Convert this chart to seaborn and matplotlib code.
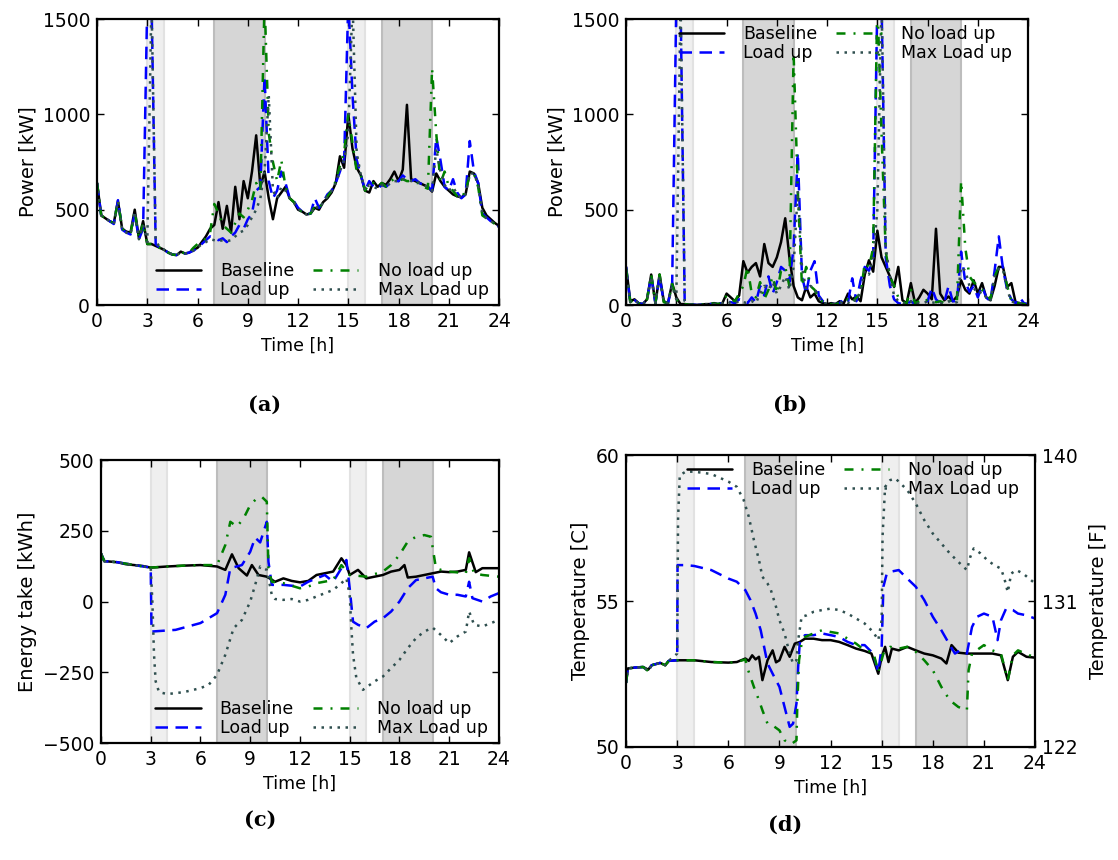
import numpy as np
import pandas as pd
import matplotlib
matplotlib.use("Agg")
import matplotlib.pyplot as plt
import seaborn as sns

# ---------------- data ----------------
hours = np.arange(0, 24.01, 0.25)
series_names = ["Baseline", "Load up", "No load up", "Max Load up"]

# Panel (a): total power [kW], 15-min grid
a_base = [640, 470, 455, 440, 430, 545, 400, 385, 380, 500, 350, 440, 320, 320, 310, 300, 290, 275, 265, 262,
          280, 270, 275, 290, 300, 330, 360, 400, 420, 540, 400, 520, 380, 620, 450, 650, 560, 700, 890, 620,
          700, 560, 450, 560, 590, 620, 560, 540, 500, 490, 475, 480, 510, 500, 540, 560, 590, 640, 780, 720,
          1000, 820, 720, 680, 600, 590, 650, 620, 640, 630, 660, 700, 650, 710, 1050, 660, 650, 640, 630, 620,
          595, 690, 650, 620, 600, 580, 570, 565, 580, 700, 690, 640, 510, 470, 450, 430, 415]
a_load = [640, 470, 455, 440, 425, 550, 395, 380, 370, 480, 345, 400, 1600, 1600, 320, 300, 290, 275, 265, 262,
          275, 270, 275, 285, 300, 320, 340, 360, 350, 340, 350, 330, 360, 380, 420, 400, 450, 480, 600, 620,
          1200, 650, 560, 600, 700, 640, 560, 545, 510, 490, 475, 480, 560, 510, 540, 580, 600, 640, 700, 760,
          1600, 1100, 760, 680, 600, 650, 620, 610, 630, 620, 640, 650, 650, 680, 660, 650, 660, 640, 630, 620,
          600, 880, 760, 620, 600, 660, 590, 560, 580, 860, 700, 640, 480, 460, 440, 425, 410]
a_noload = [640, 470, 455, 440, 430, 545, 400, 385, 375, 490, 350, 430, 320, 320, 310, 300, 290, 275, 265, 262,
            280, 270, 275, 300, 320, 330, 350, 380, 530, 480, 420, 400, 380, 430, 480, 460, 500, 550, 640, 600,
            1600, 900, 750, 650, 760, 620, 560, 540, 500, 490, 475, 480, 520, 510, 540, 570, 600, 650, 730, 800,
            1000, 850, 700, 680, 600, 640, 640, 620, 640, 620, 650, 660, 650, 660, 650, 650, 640, 640, 620, 610,
            1240, 900, 640, 700, 620, 600, 570, 560, 600, 680, 690, 620, 470, 455, 440, 425, 410]
a_max = [640, 470, 455, 440, 425, 545, 395, 380, 370, 490, 345, 420, 330, 1600, 340, 300, 290, 275, 265, 262,
         275, 270, 275, 285, 300, 320, 330, 345, 340, 335, 340, 335, 340, 360, 380, 390, 420, 460, 500, 560,
         700, 1100, 600, 560, 620, 600, 560, 540, 505, 490, 475, 480, 520, 505, 540, 570, 600, 640, 700, 760,
         900, 1600, 800, 680, 600, 630, 620, 610, 630, 620, 640, 650, 650, 660, 660, 650, 650, 640, 630, 620,
         600, 820, 700, 630, 600, 620, 580, 560, 580, 690, 690, 630, 480, 455, 440, 425, 410]

# Panel (b): power [kW], 15-min grid
b_base = [200, 20, 30, 10, 5, 30, 160, 10, 160, 20, 10, 115, 40, 5, 5, 2, 2, 0, 2, 5,
          5, 10, 5, 10, 60, 40, 20, 50, 230, 170, 200, 220, 150, 320, 220, 200, 250, 330, 455, 250,
          100, 40, 25, 95, 40, 60, 20, 10, 5, 10, 5, 20, 10, 60, 30, 45, 20, 160, 235, 175,
          390, 250, 200, 150, 95, 200, 25, 10, 115, 10, 40, 80, 60, 30, 400, 60, 25, 45, 20, 45,
          130, 80, 60, 130, 60, 115, 40, 25, 100, 200, 200, 95, 115, 15, 10, 5, 5]
b_load = [200, 15, 25, 10, 5, 30, 150, 10, 150, 15, 10, 100, 1600, 1600, 10, 2, 2, 0, 2, 3,
          5, 5, 5, 10, 20, 15, 10, 30, 20, 10, 40, 15, 100, 50, 150, 60, 120, 200, 180, 120,
          300, 800, 150, 60, 180, 230, 50, 20, 10, 5, 5, 10, 30, 15, 140, 20, 130, 200, 180, 250,
          1600, 1600, 250, 100, 30, 10, 5, 5, 20, 5, 10, 20, 20, 90, 30, 10, 15, 100, 20, 20,
          280, 120, 70, 100, 40, 100, 40, 20, 180, 360, 190, 80, 30, 10, 40, 10, 5]
b_noload = [190, 15, 30, 10, 5, 30, 160, 10, 160, 15, 10, 110, 30, 5, 5, 2, 2, 0, 2, 5,
            5, 8, 5, 15, 50, 30, 20, 60, 100, 200, 60, 40, 120, 30, 80, 150, 60, 180, 200, 100,
            1320, 600, 100, 200, 100, 80, 40, 15, 5, 5, 5, 10, 20, 30, 10, 40, 60, 220, 200, 300,
            1600, 900, 280, 150, 100, 40, 15, 10, 80, 10, 20, 10, 30, 20, 15, 20, 10, 30, 10, 20,
            650, 300, 150, 120, 100, 80, 60, 30, 150, 200, 190, 100, 20, 10, 10, 5, 5]
b_max = [190, 15, 25, 10, 5, 25, 150, 10, 150, 15, 10, 100, 30, 1600, 20, 2, 2, 0, 2, 3,
         5, 5, 5, 10, 20, 10, 10, 20, 15, 10, 20, 10, 60, 100, 80, 120, 60, 100, 150, 80,
         200, 600, 200, 80, 100, 90, 40, 15, 5, 5, 5, 10, 20, 10, 30, 20, 80, 180, 160, 250,
         500, 1600, 300, 150, 50, 20, 10, 5, 20, 5, 10, 10, 20, 15, 10, 10, 10, 20, 10, 15,
         200, 180, 100, 90, 60, 70, 40, 20, 150, 190, 190, 80, 20, 10, 10, 5, 5]

# Panel (c): energy take [kWh]
c_base_t = [0, 0.2, 1, 1.5, 2, 2.5, 3, 4, 5, 6, 7, 7.5, 7.9, 8.3, 8.8, 9.1, 9.5, 10, 10.5, 11, 11.5, 12, 12.5,
            13, 13.5, 14, 14.5, 14.8, 15, 15.5, 16, 16.5, 17, 17.5, 18, 18.3, 18.5, 19, 19.5, 20, 20.5, 21,
            21.5, 22, 22.2, 22.6, 23, 24]
c_base_v = [170, 143, 139, 132, 129, 126, 120, 124, 127, 129, 124, 112, 167, 118, 92, 129, 94, 88, 70, 82, 73,
            68, 73, 94, 100, 106, 153, 129, 94, 112, 82, 88, 94, 106, 112, 129, 85, 88, 94, 100, 106, 104, 106,
            112, 174, 104, 118, 118]
c_load_t = [0, 0.2, 1, 2, 3, 3.05, 4.5, 6, 7, 7.5, 7.8, 8.5, 9, 9.3, 9.6, 10, 10.1, 10.3, 11, 12, 12.5, 13,
            13.5, 14, 14.5, 14.8, 15, 15.2, 15.5, 16, 16.5, 17, 17.5, 18, 18.5, 19, 19.5, 20, 20.2, 20.5, 21,
            21.5, 22, 22.2, 22.4, 23, 23.5, 24]
c_load_v = [170, 143, 139, 129, 120, -106, -100, -76, -41, 24, 118, 129, 176, 226, 209, 282, 141, 59, 59, 53,
            70, 82, 94, 70, 118, 147, 47, -71, -82, -94, -71, -59, -35, 0, 47, 76, 82, 88, 47, 33, 24, 24, 18,
            70, 12, 0, 18, 30]
c_noload_t = [0, 0.2, 1, 2, 3, 4, 5, 6, 7, 7.5, 7.8, 8.2, 8.6, 9, 9.4, 9.7, 10, 10.1, 10.3, 11, 12, 12.5, 13,
              14, 14.5, 15, 16, 17, 17.5, 18, 18.5, 19, 19.5, 19.9, 20.2, 20.5, 21, 22, 22.2, 22.5, 23, 24]
c_noload_v = [170, 143, 139, 129, 120, 124, 127, 129, 129, 200, 282, 265, 294, 341, 365, 370, 353, 118, 70, 65,
              47, 53, 65, 76, 129, 94, 88, 106, 129, 165, 212, 229, 235, 229, 118, 112, 106, 100, 153, 100, 94, 88]
c_max_t = [0, 0.2, 1, 2, 3, 3.1, 3.2, 3.3, 3.5, 4, 5, 6, 6.5, 7, 7.5, 8, 8.5, 9, 9.3, 9.6, 10, 10.3, 10.5, 11,
           11.5, 12, 12.5, 13, 14, 14.5, 14.8, 15.0, 15.1, 15.2, 15.4, 15.8, 16.5, 17, 17.5, 18, 18.5, 19, 19.5,
           20, 20.5, 21, 21.5, 22, 22.2, 22.5, 23, 24]
c_max_v = [170, 143, 139, 129, 120, 0, -188, -282, -320, -327, -320, -306, -294, -259, -188, -94, -65, 0, 59,
           124, 112, 24, 9, 6, 9, 0, 6, 18, 41, 65, 82, 24, -94, -188, -270, -312, -282, -265, -235, -206, -165,
           -129, -106, -92, -118, -147, -123, -106, -35, -82, -88, -65]

# Panel (d): temperature [C]
d_base_t = [0, 0.1, 0.5, 1, 1.3, 1.5, 2, 2.3, 2.5, 3, 4, 5, 6, 6.5, 7, 7.2, 7.4, 7.6, 7.8, 8.0, 8.3, 8.6, 8.8,
            9.0, 9.3, 9.6, 9.9, 10.2, 10.5, 11, 11.5, 12, 12.5, 13, 13.5, 14, 14.4, 14.8, 15.0, 15.2, 15.4, 15.6,
            16, 16.5, 17, 17.5, 18, 18.5, 18.8, 19.1, 19.5, 20, 20.5, 21, 21.5, 22, 22.4, 22.7, 23, 23.5, 24]
d_base_v = [52.2, 52.69, 52.72, 52.74, 52.65, 52.8, 52.88, 52.8, 52.95, 52.97, 52.97, 52.91, 52.89, 52.91, 53.03,
            52.95, 53.14, 53.0, 53.09, 52.29, 52.97, 53.31, 52.9, 52.97, 53.43, 53.09, 53.54, 53.6, 53.71, 53.71,
            53.66, 53.66, 53.6, 53.49, 53.37, 53.29, 53.2, 52.51, 53.09, 53.43, 52.91, 53.37, 53.31, 53.43, 53.31,
            53.2, 53.14, 53.03, 52.86, 53.49, 53.23, 53.2, 53.2, 53.2, 53.2, 53.14, 52.29, 53.09, 53.26, 53.09,
            53.06]
d_load_t = [0, 0.1, 0.5, 1, 1.3, 1.5, 2, 2.3, 2.5, 3, 3.02, 3.5, 4, 5, 6, 6.5, 7, 7.3, 7.6, 7.9, 8.1, 8.3, 8.6,
            9.0, 9.3, 9.6, 9.8, 10.0, 10.1, 10.2, 10.5, 11, 11.5, 12, 12.5, 13, 13.5, 14, 14.5, 14.8, 15.0, 15.1,
            15.3, 15.5, 16, 16.5, 17, 17.5, 18, 18.5, 19, 19.3, 19.6, 20.0, 20.3, 20.6, 21, 21.5, 21.8, 22, 22.3,
            22.7, 23, 23.5, 24]
d_load_v = [52.2, 52.69, 52.72, 52.74, 52.6, 52.8, 52.88, 52.8, 52.95, 52.97, 56.23, 56.23, 56.2, 56.06, 55.77,
            55.66, 55.37, 55.03, 54.57, 54.0, 53.43, 52.86, 52.51, 52.06, 51.37, 50.69, 50.8, 51.49, 52.74, 53.66,
            53.83, 53.83, 53.89, 53.83, 53.77, 53.6, 53.49, 53.49, 53.2, 52.57, 53.43, 55.49, 55.94, 56.0, 56.06,
            55.77, 55.49, 55.03, 54.46, 54.0, 53.49, 53.2, 53.31, 53.2, 54.11, 54.46, 54.57, 54.46, 53.66, 54.34,
            54.74, 54.69, 54.57, 54.51, 54.4]
d_noload_t = [0, 0.1, 0.5, 1, 1.3, 1.5, 2, 2.3, 2.5, 3, 4, 5, 6, 6.5, 7, 7.1, 7.5, 7.8, 8.0, 8.3, 8.6, 9.0, 9.3,
              9.7, 10.0, 10.05, 10.15, 10.3, 10.5, 11, 11.5, 12, 12.5, 13, 13.5, 14, 14.5, 14.8, 15.1, 15.5, 16,
              16.5, 17, 17.5, 18, 18.5, 19, 19.5, 20.0, 20.1, 20.3, 21, 21.5, 22, 22.4, 22.7, 23, 24]
d_noload_v = [52.2, 52.69, 52.72, 52.74, 52.6, 52.8, 52.88, 52.8, 52.95, 52.97, 52.97, 52.91, 52.89, 52.91, 53.0,
              52.74, 52.06, 51.6, 51.26, 50.8, 50.74, 50.57, 50.23, 50.1, 50.23, 51.49, 52.97, 53.54, 53.77, 53.89,
              54.0, 53.94, 53.89, 53.71, 53.54, 53.31, 53.26, 52.57, 53.2, 53.43, 53.37, 53.43, 53.26, 52.97, 52.63,
              52.06, 51.6, 51.37, 51.26, 52.63, 53.2, 53.49, 53.31, 53.2, 52.29, 53.14, 53.31, 53.06]
d_max_t = [0, 0.1, 0.5, 1, 1.3, 1.5, 2, 2.3, 2.5, 3, 3.05, 3.15, 3.5, 4, 5, 6, 6.5, 6.9, 7.2, 7.5, 7.8, 8.0, 8.3,
           8.5, 8.8, 9.0, 9.3, 9.6, 9.8, 10.0, 10.1, 10.3, 10.6, 11, 11.5, 12, 12.5, 13, 13.5, 14, 14.5, 14.8,
           15.0, 15.05, 15.2, 15.5, 15.8, 16, 16.5, 17, 17.5, 18, 18.5, 19, 19.5, 20.0, 20.2, 20.4, 20.8, 21.2,
           21.6, 22, 22.2, 22.4, 22.6, 22.9, 23.3, 24]
d_max_v = [52.2, 52.69, 52.72, 52.74, 52.6, 52.8, 52.88, 52.8, 52.95, 53.2, 57.8, 59.31, 59.43, 59.43, 59.35,
           59.09, 58.91, 58.46, 57.89, 57.09, 56.4, 55.83, 55.6, 55.37, 54.8, 54.34, 53.89, 53.2, 52.86, 52.97,
           53.66, 54.46, 54.51, 54.63, 54.69, 54.74, 54.69, 54.57, 54.4, 54.23, 53.94, 53.66, 54.34, 57.2, 58.91,
           59.14, 59.2, 59.09, 58.8, 58.34, 57.77, 57.31, 56.97, 56.63, 56.34, 56.06, 56.51, 56.8, 56.63, 56.4,
           56.23, 56.11, 55.77, 55.3, 55.94, 56.06, 55.94, 55.6]

x_ticks = [0, 3, 6, 9, 12, 15, 18, 21, 24]
power_ticks = [0, 500, 1000, 1500]
energy_ticks = [-500, -250, 0, 250, 500]
tempC_ticks = [50, 55, 60]
tempF_ticks = [122, 131, 140]
light_bands = [(3, 4), (15, 16)]
dark_bands = [(7, 10), (17, 20)]

# ---------------- style ----------------
sns.set_theme(style="ticks")
plt.rcParams["font.family"] = ["DejaVu Sans"]
plt.rcParams["font.size"] = 12
for key in ["text.color", "axes.labelcolor", "xtick.color", "ytick.color", "axes.edgecolor"]:
    plt.rcParams[key] = "black"

colors = {"Baseline": "black", "Load up": "#0000ff", "No load up": "#008000", "Max Load up": "#2f4f4f"}
styles = {"Baseline": "-", "Load up": (0, (5, 3)), "No load up": (0, (3.6, 3.2, 0.8, 3.2)),
          "Max Load up": (0, (1, 2.2))}

fig = plt.figure(figsize=(11.18, 8.6), dpi=100)
ax_a = fig.add_axes([0.0868, 0.6453, 0.3596, 0.3326])
ax_b = fig.add_axes([0.5600, 0.6453, 0.3596, 0.3326])
ax_c = fig.add_axes([0.0903, 0.1360, 0.3560, 0.3290])
ax_d = fig.add_axes([0.5600, 0.1314, 0.3658, 0.3395])


def shade(ax):
    for lo, hi in light_bands:
        ax.axvspan(lo, hi, facecolor="#efefef", edgecolor="#e2e2e2", lw=1.5, zorder=0)
    for lo, hi in dark_bands:
        ax.axvspan(lo, hi, facecolor="#d6d6d6", edgecolor="#bdbdbd", lw=1.5, zorder=0)


def draw(ax, data):
    for name, (t, v) in zip(series_names, data):
        df = pd.DataFrame({"t": t, "v": v})
        sns.lineplot(data=df, x="t", y="v", ax=ax, color=colors[name], linestyle=styles[name],
                     lw=1.8, label=name, estimator=None, sort=False, legend=False)


def finish(ax, yticks, ylabel, legend_loc, anchor):
    ax.set_xlim(0, 24)
    ax.set_xticks(x_ticks)
    ax.set_yticks(yticks)
    ax.set_ylim(yticks[0], yticks[-1])
    ax.set_xlabel("Time [h]", fontsize=12.5)
    ax.set_ylabel(ylabel, fontsize=14)
    ax.tick_params(direction="in", top=True, right=True, labelsize=13.5, length=5, width=1, pad=5)
    for s in ax.spines.values():
        s.set_linewidth(1.6)
        s.set_color("black")
    ax.legend(ncol=2, loc=legend_loc, bbox_to_anchor=anchor, frameon=False, fontsize=12.5,
              handlelength=2.6, labelspacing=0.05, columnspacing=1.1, borderaxespad=0, borderpad=0.2,
              handletextpad=1.1)


for ax in (ax_a, ax_b, ax_c, ax_d):
    shade(ax)

draw(ax_a, [(hours, a_base), (hours, a_load), (hours, a_noload), (hours, a_max)])
finish(ax_a, power_ticks, "Power [kW]", "lower center", (0.56, 0.01))

draw(ax_b, [(hours, b_base), (hours, b_load), (hours, b_noload), (hours, b_max)])
finish(ax_b, power_ticks, "Power [kW]", "upper center", (0.545, 0.99))

draw(ax_c, [(c_base_t, c_base_v), (c_load_t, c_load_v), (c_noload_t, c_noload_v), (c_max_t, c_max_v)])
finish(ax_c, energy_ticks, "Energy take [kWh]", "lower center", (0.555, 0.01))

draw(ax_d, [(d_base_t, d_base_v), (d_load_t, d_load_v), (d_noload_t, d_noload_v), (d_max_t, d_max_v)])
finish(ax_d, tempC_ticks, "Temperature [C]", "upper center", (0.555, 0.99))
ax_d.tick_params(right=False)
ax_d2 = ax_d.twinx()
ax_d2.set_ylim(tempF_ticks[0], tempF_ticks[-1])
ax_d2.set_yticks(tempF_ticks)
ax_d2.set_ylabel("Temperature [F]", fontsize=14, labelpad=8)
ax_d2.tick_params(direction="in", labelsize=13.5, length=5, width=1, pad=5)

for lbl, (x, y) in zip(["(a)", "(b)", "(c)", "(d)"],
                       [(0.237, 0.529), (0.7066, 0.529), (0.2326, 0.0465), (0.702, 0.0407)]):
    fig.text(x, y, lbl, ha="center", va="center", fontsize=15, fontweight="bold", family="DejaVu Serif")

fig.savefig("out.png", dpi=100)
